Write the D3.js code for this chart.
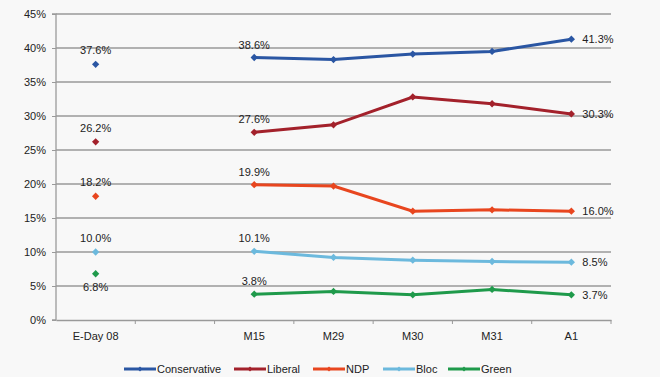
<!DOCTYPE html>
<html>
<head>
<meta charset="utf-8">
<script src="https://cdn.jsdelivr.net/npm/d3@7"></script>
<style>
  body { margin: 0; background: #f8f8f8; }
  svg { font-family: "Liberation Sans", Arial, sans-serif; }
</style>
</head>
<body>
<div class="chart"></div>
<script>
var svgWidth = 660;
var svgHeight = 377;

var margin = { top: 14, right: 49, bottom: 57, left: 56 };
var width = svgWidth - margin.left - margin.right;
var height = svgHeight - margin.top - margin.bottom;

// categories (the blank slot keeps the gap after election day)
var categories = ["E-Day 08", "", "M15", "M29", "M30", "M31", "A1"];
var pollCats = ["M15", "M29", "M30", "M31", "A1"];
var yTicks = [0, 5, 10, 15, 20, 25, 30, 35, 40, 45];

var parties = ["Conservative", "Liberal", "NDP", "Bloc", "Green"];
var colors = ["#2a56a3", "#a3212b", "#e8461f", "#6cb9dd", "#1f9a4b"];

// election day result
var eday = [37.6, 26.2, 18.2, 10.0, 6.8];
// polling series
var conservative = [38.6, 38.3, 39.1, 39.5, 41.3];
var liberal = [27.6, 28.7, 32.8, 31.8, 30.3];
var ndp = [19.9, 19.7, 16.0, 16.2, 16.0];
var bloc = [10.1, 9.2, 8.8, 8.6, 8.5];
var green = [3.8, 4.2, 3.7, 4.5, 3.7];
var series = [conservative, liberal, ndp, bloc, green];

// labels shown next to first and last poll
var firstLabels = ["38.6%", "27.6%", "19.9%", "10.1%", "3.8%"];
var lastLabels = ["41.3%", "30.3%", "16.0%", "8.5%", "3.7%"];
var edayLabels = ["37.6%", "26.2%", "18.2%", "10.0%", "6.8%"];

var svg = d3.select(".chart")
  .append("svg")
  .attr("width", svgWidth)
  .attr("height", svgHeight);

var chartGroup = svg.append("g")
  .attr("transform", `translate(${margin.left}, ${margin.top})`);

var x = d3.scaleBand().domain(categories).range([0, width]);
var y = d3.scaleLinear().domain([0, 45]).range([height, 0]);
var cx = d => x(d) + x.bandwidth() / 2;

// gridlines
chartGroup.append("g")
  .selectAll("line")
  .data(yTicks.slice(1))
  .enter()
  .append("line")
  .attr("x1", 0)
  .attr("x2", width)
  .attr("y1", d => y(d))
  .attr("y2", d => y(d))
  .attr("stroke", "#9a9a9a")
  .attr("stroke-width", 1.3);

// y axis
var leftAxis = d3.axisLeft(y).tickValues(yTicks).tickFormat(d => d + "%").tickSize(4).tickPadding(6);
var yAxis = chartGroup.append("g").call(leftAxis);
yAxis.select(".domain").attr("stroke", "#9a9a9a").attr("stroke-width", 1.3).attr("d", `M-4,${y(0)}H0V${y(45)}H-4`);
yAxis.selectAll(".tick line").attr("stroke", "#9a9a9a");
yAxis.selectAll("text").attr("fill", "#222").style("font-size", "11px");

// x axis
var bottomAxis = d3.axisBottom(x).tickSize(0).tickPadding(12);
var xAxis = chartGroup.append("g")
  .attr("transform", `translate(0, ${height})`)
  .call(bottomAxis);
xAxis.select(".domain").attr("stroke", "#9a9a9a").attr("stroke-width", 1.3);
xAxis.selectAll("text").attr("fill", "#222").style("font-size", "11px");
// ticks between categories
xAxis.selectAll(".sep")
  .data(categories)
  .enter()
  .append("line")
  .attr("x1", d => x(d) + x.bandwidth())
  .attr("x2", d => x(d) + x.bandwidth())
  .attr("y1", 0)
  .attr("y2", 4)
  .attr("stroke", "#9a9a9a");

var diamond = d3.symbol().type(d3.symbolDiamond2).size(34);

var line = d3.line()
  .x((d, i) => cx(pollCats[i]))
  .y(d => y(d));

parties.forEach(function(p, k) {
  var g = chartGroup.append("g");

  g.append("path")
    .datum(series[k])
    .attr("d", line)
    .attr("fill", "none")
    .attr("stroke", colors[k])
    .attr("stroke-width", 3);

  g.selectAll(".pt")
    .data(series[k])
    .enter()
    .append("path")
    .attr("d", diamond)
    .attr("transform", (d, i) => `translate(${cx(pollCats[i])},${y(d)})`)
    .attr("fill", colors[k]);

  // election day marker
  g.append("path")
    .attr("d", diamond)
    .attr("transform", `translate(${cx(categories[0])},${y(eday[k])})`)
    .attr("fill", colors[k]);

  g.append("text")
    .attr("x", cx(categories[0]))
    .attr("y", p === "Green" ? y(eday[k]) + 17 : y(eday[k]) - 10)
    .attr("text-anchor", "middle")
    .style("font-size", "11px")
    .attr("fill", "#222")
    .text(edayLabels[k]);

  g.append("text")
    .attr("x", cx(pollCats[0]))
    .attr("y", y(series[k][0]) - 9)
    .attr("text-anchor", "middle")
    .style("font-size", "11px")
    .attr("fill", "#222")
    .text(firstLabels[k]);

  var last = series[k][series[k].length - 1];
  g.append("text")
    .attr("x", cx(pollCats[pollCats.length - 1]) + 11)
    .attr("y", y(last) + 4)
    .style("font-size", "11px")
    .attr("fill", "#222")
    .text(lastLabels[k]);
});

// legend
var legendX = [124, 234, 313, 383, 448];
var legend = svg.append("g").attr("transform", "translate(0, 369)");
parties.forEach(function(p, k) {
  legend.append("line")
    .attr("x1", legendX[k])
    .attr("x2", legendX[k] + 32)
    .attr("y1", 0)
    .attr("y2", 0)
    .attr("stroke", colors[k])
    .attr("stroke-width", 3);
  legend.append("path")
    .attr("d", d3.symbol().type(d3.symbolDiamond2).size(16))
    .attr("transform", `translate(${legendX[k] + 16},0)`)
    .attr("fill", colors[k]);
  legend.append("text")
    .attr("x", legendX[k] + 33)
    .attr("y", 4)
    .style("font-size", "11px")
    .attr("fill", "#222")
    .text(p);
});
</script>
</body>
</html>
